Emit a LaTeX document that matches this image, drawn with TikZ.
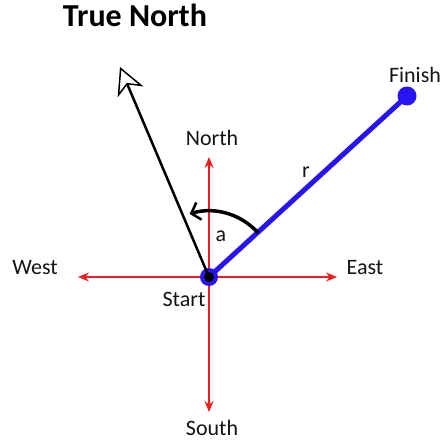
\documentclass[tikz,border=0pt]{standalone}
\usepackage{fontspec}
\setmainfont{Carlito}
\usepackage{tikz}
\usetikzlibrary{arrows.meta, calc}
\definecolor{AxisRed}{RGB}{240, 30, 30}
\definecolor{PathBlue}{RGB}{40, 20, 240}
\definecolor{LabelDark}{RGB}{20, 20, 20}

\tikzset{
  axis/.style={AxisRed, line width=1.2pt, -{Stealth[length=11pt, width=9pt]}},
  label/.style={text=LabelDark, font=\fontsize{22}{26}\selectfont, inner sep=0pt},
}

\begin{document}
\begin{tikzpicture}[x=1pt,y=1pt]
  \path[use as bounding box, fill=white] (0,0) rectangle (446,445);
  \node[font=\fontsize{32}{38}\selectfont\bfseries, inner sep=0pt] (title) at (135,430) {True North};

  % compass
  \coordinate (start) at (209,168);
  \coordinate (ntip) at (209,288);
  \coordinate (stip) at (209,33);
  \coordinate (wtip) at (78,168);
  \coordinate (etip) at (337,168);
  \draw[axis] (start) -- (ntip);
  \draw[axis] (start) -- (stip);
  \draw[axis] (start) -- (wtip);
  \draw[axis] (start) -- (etip);
  \node[label] (north) at (212,307) {North};
  \node[label] (south) at (212,17) {South};
  \node[label] (west) at (35,177) {West};
  \node[label] (east) at (365,177) {East};

  % displacement
  \coordinate (finish) at (407,349);
  \draw[PathBlue, line width=5pt] (start) -- (finish);
  \fill[PathBlue] (finish) circle (9.5pt);
  \fill[PathBlue] (start) circle (9pt);
  \node[label] (finishlbl) at (415,370) {Finish};
  \node[label] (startlbl) at (184,146) {Start};
  \node[label] (rlbl) at (306,273) {r};

  % heading
  \coordinate (head) at (120,378);
  \draw[line width=2.5pt, -{Stealth[open, fill=white, length=27pt, width=28pt, inset=8pt, line width=1.5pt]}] (start) -- (head);
  \fill (start) circle (5pt);
  \draw[line width=3.5pt, -{Straight Barb[length=8pt, width=18pt, line width=2.5pt]}]
    ($(start)+(42:66)$) arc[start angle=42, end angle=107, radius=66];
  \node[label] (albl) at (221,209) {a};
\end{tikzpicture}
\end{document}
